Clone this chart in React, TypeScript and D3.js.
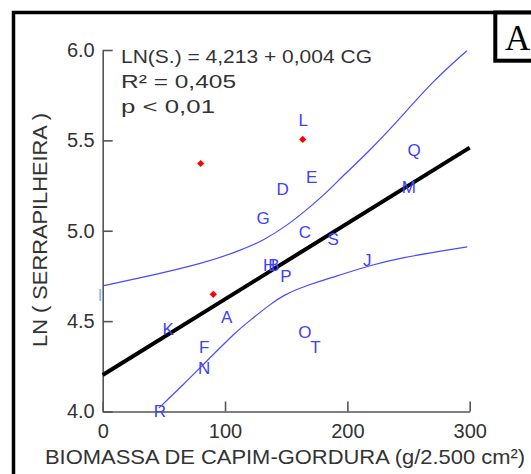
// Gráfica de dispersão: LN(serrapilheira) x biomassa de capim-gordura
import * as d3 from "d3";
import React, { useEffect, useRef } from "react";

// rótulos das parcelas e valores
const rotulos = ["A", "B", "C", "D", "E", "F", "G", "H", "I", "J", "K", "L", "M", "N", "O", "P", "Q", "R", "S", "T"];
const biomassa = [101.3, 140, 165.3, 147.1, 170.8, 83, 131.2, 136.1, -2.2, 216.2, 53.6, 163.9, 250.3, 83, 165.3, 149.8, 254.6, 46.8, 188.4, 174];
const lnSerrapilheira = [4.522, 4.809, 4.992, 5.234, 5.298, 4.356, 5.071, 4.809, 4.643, 4.837, 4.458, 5.612, 5.243, 4.24, 4.439, 4.748, 5.446, 4.006, 4.953, 4.356];

// pontos vermelhos
const destaqueX = [163.5, 80.1, 90.4];
const destaqueY = [5.505, 5.372, 4.648];

// reta de regressão
const retaX = [0, 300];
const retaY = [4.202, 5.46];

// limites do intervalo de confiança
const bandaSupX = [0, 40.3, 82, 109.7, 131.8, 151.4, 165.3, 181.7, 198, 217.6, 247.9, 269.9, 297.7];
const bandaSupY = [4.695, 4.753, 4.82, 4.883, 4.947, 5.033, 5.108, 5.202, 5.315, 5.437, 5.658, 5.828, 5.996];
const bandaInfX = [46, 65.5, 82.1, 109.7, 120.4, 137.5, 147.6, 165.2, 192.8, 217.7, 248.2, 267.5, 298];
const bandaInfY = [4.02, 4.146, 4.259, 4.446, 4.504, 4.596, 4.643, 4.695, 4.752, 4.808, 4.855, 4.877, 4.911];

const ticksX = [0, 100, 200, 300];
const ticksY = [4.0, 4.5, 5.0, 5.5, 6.0];

const equacao = ["LN(S.) = 4,213 + 0,004 CG", "R² = 0,405", "p < 0,01"];
const tituloX = "BIOMASSA DE CAPIM-GORDURA (g/2.500 cm²)";
const tituloY = "LN ( SERRAPILHEIRA )";

const width = 531;
const height = 474;
const fonte = "'Liberation Sans', Arial, sans-serif";

export default function App() {
  const ref = useRef<SVGSVGElement>(null);

  useEffect(() => {
    const svg = d3.select(ref.current);
    svg.selectAll("*").remove();

    const x = d3.scaleLinear().domain([0, 300]).range([102.7, 469.7]);
    const y = d3.scaleLinear().domain([4, 6]).range([411.5, 50]);

    svg.append("rect").attr("width", width).attr("height", height).attr("fill", "#fff");

    // moldura externa e caixa "A"
    svg.append("rect")
      .attr("x", 13.5).attr("y", 12.5).attr("width", 700).attr("height", 700)
      .attr("fill", "none").attr("stroke", "#000").attr("stroke-width", 3.5);
    svg.append("rect")
      .attr("x", 495.3).attr("y", 12.5).attr("width", 100).attr("height", 48.2)
      .attr("fill", "#fff").attr("stroke", "#000").attr("stroke-width", 4);
    svg.append("text")
      .attr("x", 505).attr("y", 50)
      .attr("font-family", "'Liberation Serif', 'Times New Roman', serif")
      .attr("font-size", 35).attr("fill", "#000")
      .text("A");

    // eixos
    const eixoX = d3.axisBottom(x).tickValues(ticksX).tickFormat(d3.format("d"))
      .tickSizeInner(-10).tickSizeOuter(0).tickPadding(12);
    const eixoY = d3.axisLeft(y).tickValues(ticksY).tickFormat(d3.format(".1f"))
      .tickSizeInner(-10).tickSizeOuter(0).tickPadding(8);

    const gx = svg.append("g").attr("transform", `translate(0,${y(4)})`).call(eixoX);
    const gy = svg.append("g").attr("transform", `translate(${x(0)},0)`).call(eixoY);
    [gx, gy].forEach((g) => {
      g.selectAll("path, line").attr("stroke", "#555").attr("stroke-width", 1.6);
      g.selectAll("text").attr("font-family", fonte).attr("font-size", 20).attr("fill", "#333");
    });

    // títulos
    svg.append("text")
      .attr("x", 45).attr("y", 463.5)
      .attr("font-family", fonte).attr("font-size", 21).attr("fill", "#333")
      .attr("textLength", 480).attr("lengthAdjust", "spacingAndGlyphs")
      .text(tituloX);
    svg.append("text")
      .attr("transform", "translate(47,347) rotate(-90)")
      .attr("font-family", fonte).attr("font-size", 21).attr("fill", "#333")
      .attr("textLength", 234).attr("lengthAdjust", "spacingAndGlyphs")
      .text(tituloY);

    // equação
    svg.append("g").selectAll("text").data(equacao).join("text")
      .attr("x", 121).attr("y", (_, i) => 62.7 + i * 25)
      .attr("font-family", fonte).attr("font-size", 18.5).attr("fill", "#333")
      .attr("textLength", (_, i) => [251, 115, 94][i]).attr("lengthAdjust", "spacingAndGlyphs")
      .text((d) => d);

    // intervalos de confiança
    const linha = d3.line<[number, number]>()
      .x((d) => x(d[0])).y((d) => y(d[1]))
      .curve(d3.curveBasis);
    const sup = bandaSupX.map((v, i) => [v, bandaSupY[i]] as [number, number]);
    const inf = bandaInfX.map((v, i) => [v, bandaInfY[i]] as [number, number]);
    [sup, inf].forEach((pts) => {
      svg.append("path").attr("d", linha(pts)).attr("fill", "none")
        .attr("stroke", "#4a4aff").attr("stroke-width", 1.2);
    });

    // reta de regressão
    const reta = retaX.map((v, i) => [v, retaY[i]] as [number, number]);
    svg.append("path")
      .attr("d", d3.line<[number, number]>().x((d) => x(d[0])).y((d) => y(d[1]))(reta))
      .attr("stroke", "#000").attr("stroke-width", 4).attr("fill", "none");

    // pontos vermelhos
    const losango = d3.symbol(d3.symbolSquare, 26);
    svg.append("g").selectAll("path").data(destaqueX).join("path")
      .attr("d", losango())
      .attr("transform", (d, i) => `translate(${x(d)},${y(destaqueY[i])}) rotate(45)`)
      .attr("fill", "#f00");

    // letras das parcelas
    svg.append("g").selectAll("text").data(rotulos).join("text")
      .attr("x", (_, i) => x(biomassa[i]))
      .attr("y", (_, i) => y(lnSerrapilheira[i]))
      .attr("dy", "0.36em")
      .attr("text-anchor", "middle")
      .attr("font-family", fonte).attr("font-size", 17)
      .attr("fill", (d) => (d === "I" ? "#8fb0f0" : "#4040ff"))
      .text((d) => d);
  }, []);

  return (
    <svg
      ref={ref}
      width={width}
      height={height}
      style={{ position: "absolute", left: 0, top: 0 }}
    />
  );
}
